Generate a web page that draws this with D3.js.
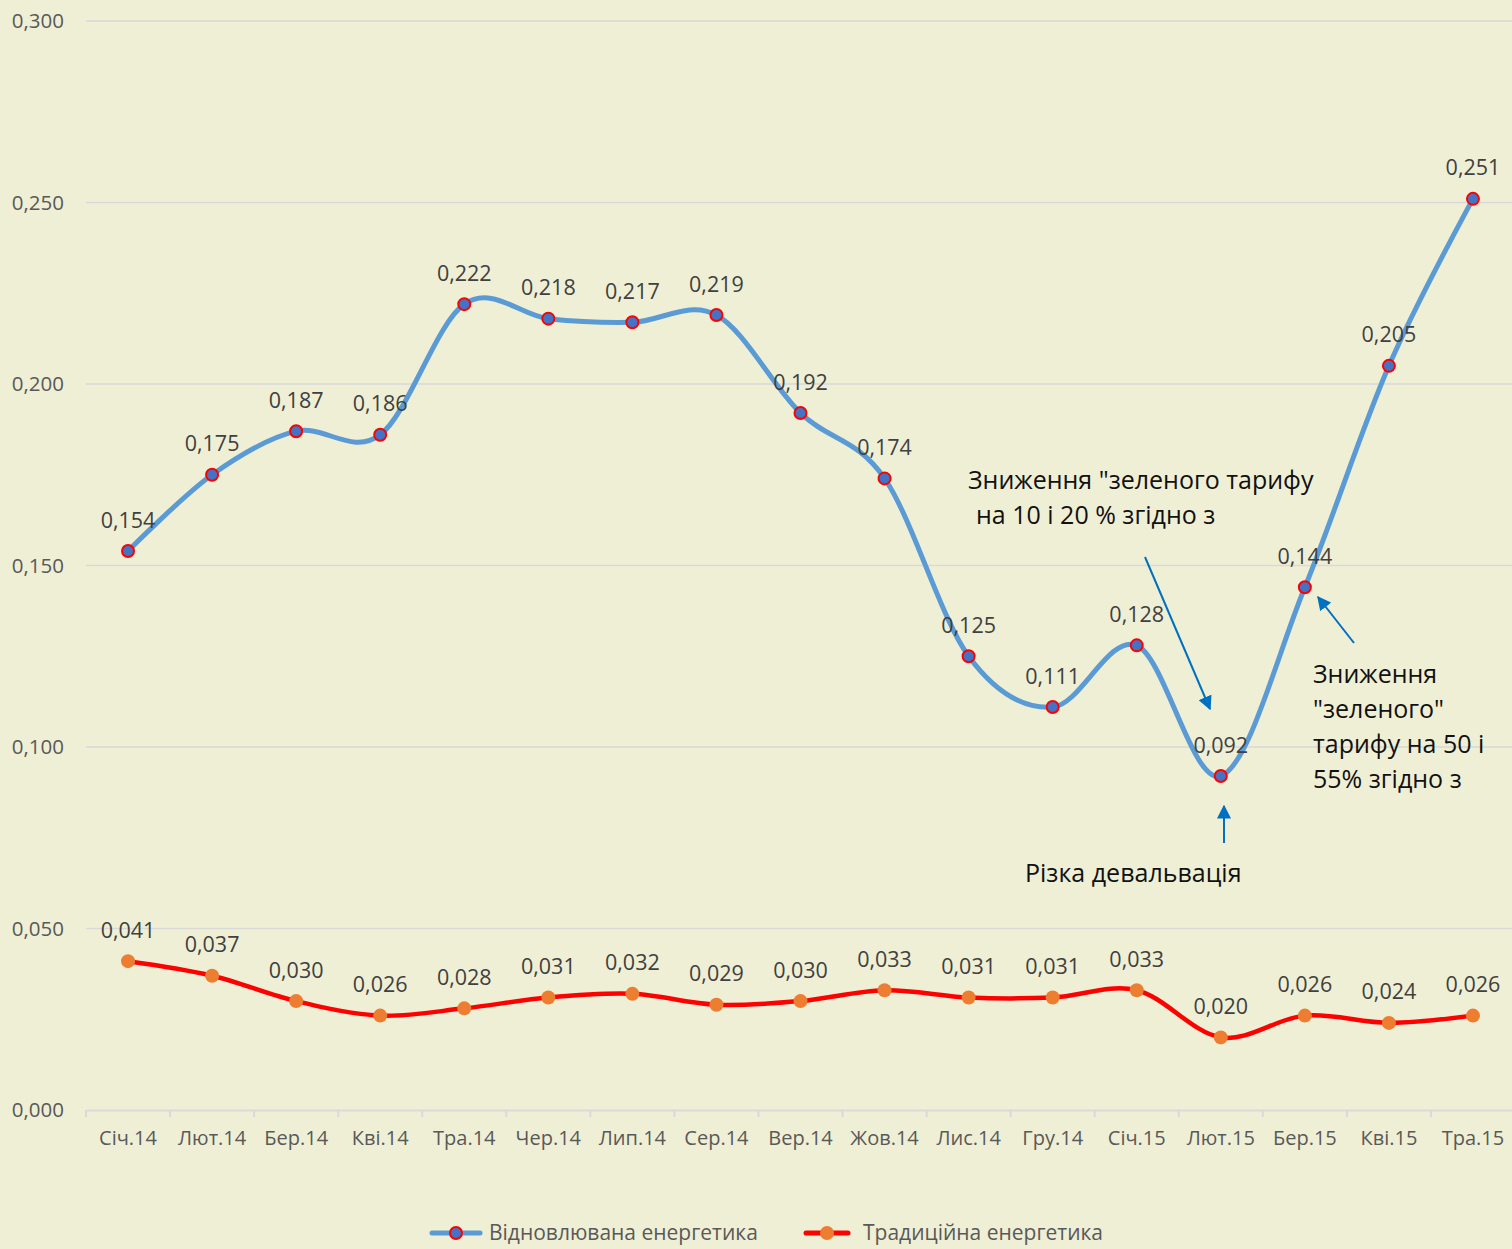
<!DOCTYPE html>
<html>
<head>
<meta charset="utf-8">
<script src="https://cdn.jsdelivr.net/npm/d3@7"></script>
<style>
  body { margin: 0; background: #efefd6; }
  svg { display: block; }
  text { font-family: "Open Sans", sans-serif; }
</style>
</head>
<body>
<svg id="chart" width="1512" height="1249"></svg>
<script>
var months = ["Січ.14","Лют.14","Бер.14","Кві.14","Тра.14","Чер.14","Лип.14","Сер.14","Вер.14","Жов.14","Лис.14","Гру.14","Січ.15","Лют.15","Бер.15","Кві.15","Тра.15"];
var renewable = [0.154,0.175,0.187,0.186,0.222,0.218,0.217,0.219,0.192,0.174,0.125,0.111,0.128,0.092,0.144,0.205,0.251];
var traditional = [0.041,0.037,0.030,0.026,0.028,0.031,0.032,0.029,0.030,0.033,0.031,0.031,0.033,0.020,0.026,0.024,0.026];
var yTicks = [0, 0.05, 0.1, 0.15, 0.2, 0.25, 0.3];
var seriesNames = ["Відновлювана енергетика", "Традиційна енергетика"];

const width = 1512, height = 1249;
const margin = {top: 21, right: -3, bottom: 139, left: 86};

var svg = d3.select("#chart");
svg.append("rect").attr("width", width).attr("height", height).attr("fill", "#efefd6");

var x = d3.scaleBand()
    .domain(months)
    .range([margin.left, width - margin.right]);

var y = d3.scaleLinear()
    .domain([0, 0.3])
    .range([height - margin.bottom, margin.top]);

var fmt = d => d3.format(".3f")(d).replace(".", ",");

// gridlines
svg.append("g").selectAll("line.grid")
    .data(yTicks.filter(d => d > 0))
    .enter()
    .append("line")
    .attr("x1", margin.left)
    .attr("x2", width)
    .attr("y1", d => y(d))
    .attr("y2", d => y(d))
    .attr("stroke", "#d9d9d9")
    .attr("stroke-width", 1.5);

// y labels
svg.append("g").selectAll("text")
    .data(yTicks)
    .enter()
    .append("text")
    .attr("x", 64)
    .attr("y", d => y(d))
    .attr("dy", "0.35em")
    .attr("text-anchor", "end")
    .attr("font-size", 20.5)
    .attr("fill", "#595959")
    .text(fmt);

// x axis
var xAxis = d3.axisBottom(x).tickSize(0).tickPadding(21);
var gx = svg.append("g")
    .attr("transform", "translate(0," + y(0) + ")")
    .call(xAxis);
gx.select(".domain").attr("stroke", "#d9d9d9").attr("stroke-width", 2);
gx.selectAll(".tick text")
    .attr("font-size", 20)
    .attr("font-family", "Open Sans, sans-serif")
    .attr("fill", "#595959");

svg.append("g").selectAll("line")
    .data(months)
    .enter()
    .append("line")
    .attr("x1", d => x(d))
    .attr("x2", d => x(d))
    .attr("y1", y(0))
    .attr("y2", y(0) + 7)
    .attr("stroke", "#d9d9d9")
    .attr("stroke-width", 2);

var cx = (d, i) => x(months[i]) + x.bandwidth() / 2;

var line = d3.line()
    .x(cx)
    .y(d => y(d))
    .curve(d3.curveCardinal.tension(0));

// traditional
svg.append("path")
    .datum(traditional)
    .attr("d", line)
    .attr("fill", "none")
    .attr("stroke", "#ff0000")
    .attr("stroke-width", 4.5);

svg.append("g").selectAll("circle")
    .data(traditional)
    .enter()
    .append("circle")
    .attr("cx", cx)
    .attr("cy", d => y(d))
    .attr("r", 7)
    .attr("fill", "#ed7d31");

// renewable
svg.append("path")
    .datum(renewable)
    .attr("d", line)
    .attr("fill", "none")
    .attr("stroke", "#5b9bd5")
    .attr("stroke-width", 5);

svg.append("g").selectAll("circle")
    .data(renewable)
    .enter()
    .append("circle")
    .attr("cx", cx)
    .attr("cy", d => y(d))
    .attr("r", 6)
    .attr("fill", "#4472c4")
    .attr("stroke", "#ff0000")
    .attr("stroke-width", 2);

// data labels
[renewable, traditional].forEach(function(series){
    svg.append("g").selectAll("text")
        .data(series)
        .enter()
        .append("text")
        .attr("x", cx)
        .attr("y", d => y(d) - 31)
        .attr("dy", "0.35em")
        .attr("text-anchor", "middle")
        .attr("font-size", 21.5)
        .attr("fill", "#404040")
        .text(fmt);
});

// annotations
var defs = svg.append("defs");
defs.append("marker")
    .attr("id", "arrow")
    .attr("viewBox", "0 0 10 10")
    .attr("refX", 9)
    .attr("refY", 5)
    .attr("markerWidth", 7)
    .attr("markerHeight", 7)
    .attr("orient", "auto")
    .append("path")
    .attr("d", "M0,0 L10,5 L0,10 z")
    .attr("fill", "#0070c0");

var arrows = [
    [1145, 557, 1210, 709],
    [1354, 643, 1318, 597],
    [1224, 843, 1224, 806]
];
svg.append("g").selectAll("line")
    .data(arrows)
    .enter()
    .append("line")
    .attr("x1", d => d[0]).attr("y1", d => d[1])
    .attr("x2", d => d[2]).attr("y2", d => d[3])
    .attr("stroke", "#0070c0")
    .attr("stroke-width", 2)
    .attr("marker-end", "url(#arrow)");

var notes = [
    {x: 968, y: 480, t: "Зниження \"зеленого тарифу"},
    {x: 976, y: 515, t: "на 10 і 20 % згідно з"},
    {x: 1313, y: 674, t: "Зниження"},
    {x: 1313, y: 709, t: "\"зеленого\""},
    {x: 1313, y: 744, t: "тарифу на 50 і"},
    {x: 1313, y: 779, t: "55% згідно з"},
    {x: 1025, y: 873, t: "Різка девальвація"}
];
svg.append("g").selectAll("text")
    .data(notes)
    .enter()
    .append("text")
    .attr("x", d => d.x)
    .attr("y", d => d.y)
    .attr("dy", "0.35em")
    .attr("font-size", 25)
    .attr("fill", "#111")
    .text(d => d.t);

// legend
var legend = svg.append("g").attr("transform", "translate(0,1233)");
var lg1 = legend.append("g").attr("transform", "translate(432,0)");
lg1.append("line").attr("x1", 0).attr("x2", 48).attr("stroke", "#5b9bd5").attr("stroke-width", 5).attr("stroke-linecap", "round");
lg1.append("circle").attr("cx", 24).attr("r", 6).attr("fill", "#4472c4").attr("stroke", "#ff0000").attr("stroke-width", 2);
lg1.append("text").attr("x", 57).attr("dy", "0.35em").attr("font-size", 21).attr("fill", "#595959").text(seriesNames[0]);

var lg2 = legend.append("g").attr("transform", "translate(806,0)");
lg2.append("line").attr("x1", 0).attr("x2", 42).attr("stroke", "#ff0000").attr("stroke-width", 5).attr("stroke-linecap", "round");
lg2.append("circle").attr("cx", 21).attr("r", 7).attr("fill", "#ed7d31");
lg2.append("text").attr("x", 57).attr("dy", "0.35em").attr("font-size", 21).attr("fill", "#595959").text(seriesNames[1]);
</script>
</body>
</html>
